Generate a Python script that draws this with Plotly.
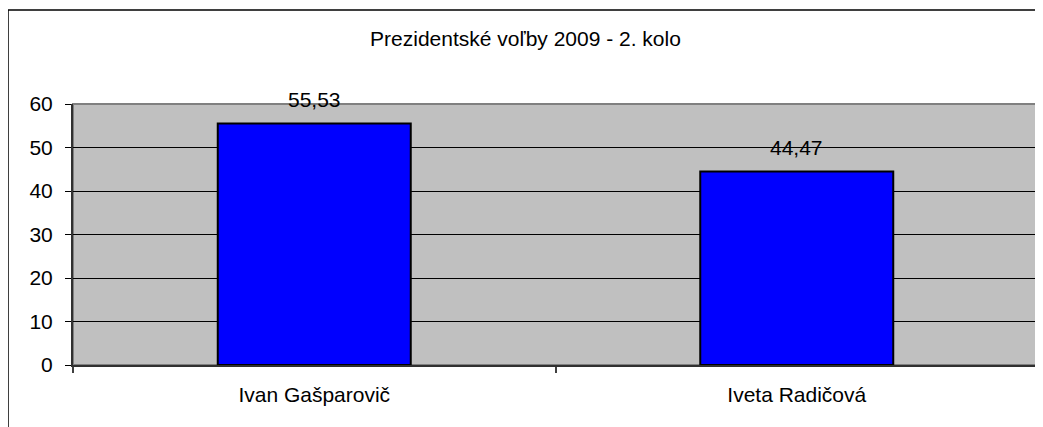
import plotly.graph_objects as go

candidates = ['Ivan Gašparovič', 'Iveta Radičová']
votes = [55.53, 44.47]
y_ticks = [0, 10, 20, 30, 40, 50, 60]

font = 'Liberation Sans, Arial, sans-serif'

# page has an 8px body margin, so the figure is a bit smaller than the window
W, H = 1035, 419
L, R, T, B = 65, 5, 96, 62
pw, ph = W - L - R, H - T - B

fig = go.Figure()

fig.add_trace(go.Bar(
    x=candidates,
    y=votes,
    width=0.4,
    marker=dict(color='#0000FF', line=dict(color='black', width=2)),
    hoverinfo='x+y'
))

# value labels above the bars, comma as decimal separator
annotations = [dict(
    x=c, y=v, text=f'{v:.2f}'.replace('.', ','),
    showarrow=False, yanchor='middle', yshift=24,
    font=dict(family=font, size=21, color='black')
) for c, v in zip(candidates, votes)]

shapes = [
    # plot area frame (gray on top and right)
    dict(type='rect', xref='paper', yref='paper', x0=0, x1=1, y0=0, y1=1,
         line=dict(color='#808080', width=2), layer='below'),
    # outer chart border
    dict(type='rect', xref='paper', yref='paper',
         x0=-L / pw, x1=1.2, y0=-0.6, y1=(ph + T - 2) / ph,
         line=dict(color='black', width=1.5)),
]

fig.update_layout(
    width=W, height=H,
    margin=dict(l=L, r=R, t=T, b=B),
    paper_bgcolor='white',
    plot_bgcolor='#C0C0C0',
    showlegend=False,
    font=dict(family=font, size=21, color='black'),
    title=dict(text='Prezidentské voľby 2009 - 2. kolo', x=0.5, xanchor='center',
               y=1 - 31 / H, yanchor='middle', font=dict(size=21)),
    annotations=annotations,
    shapes=shapes,
    xaxis=dict(
        type='category', tickson='boundaries', ticks='outside', ticklen=6,
        tickcolor='#404040', tickwidth=2, showgrid=False,
        showline=True, linecolor='#303030', linewidth=2,
        ticklabelstandoff=10, tickfont=dict(size=21)
    ),
    yaxis=dict(
        range=[0, 60], tickvals=y_ticks, ticks='outside', ticklen=6,
        tickcolor='black', showgrid=True, gridcolor='black', gridwidth=1,
        zeroline=False, showline=True, linecolor='#303030', linewidth=2,
        ticklabelstandoff=8, tickfont=dict(size=21)
    ),
)

fig.write_html('out.html')
